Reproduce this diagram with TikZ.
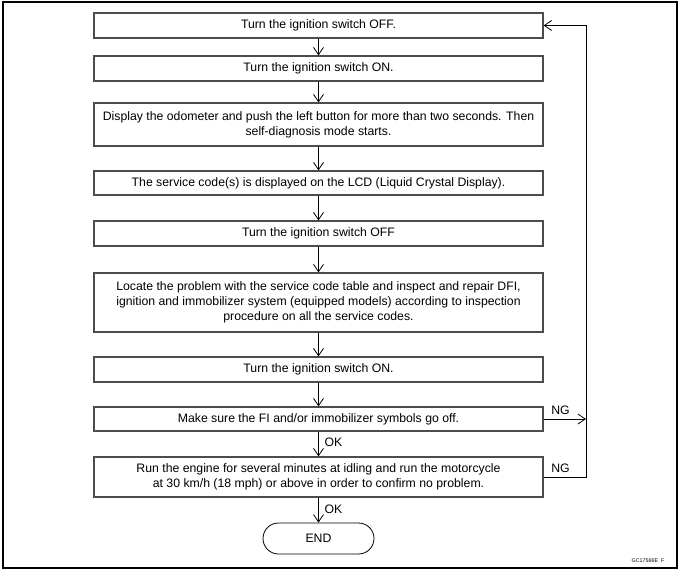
\documentclass[tikz,border=0pt]{standalone}
\usepackage{fontspec}
\setmainfont{Liberation Sans}
\usetikzlibrary{arrows.meta}
\begin{document}
\begin{tikzpicture}[x=0.75pt, y=-0.75pt, font=\fontsize{9.2}{11.4}\selectfont]
      \tikzstyle{box} = [draw=black!70, line width=0.9pt, minimum width=336.75pt, inner sep=2pt, align=center]
      \tikzstyle{flow} = [-{Straight Barb[length=5.5pt, width=7.5pt]}, line width=0.6pt]
      \useasboundingbox (0,0) rectangle (682,575);
      \draw[line width=0.9pt] (3,2) rectangle (677,568);
      \coordinate (fb) at (586,0);
      \path
	node[box, minimum height=18.75pt] (s1) at (318.5,25.5) {Turn the ignition switch OFF.}
	node[box, minimum height=18.75pt] (s2) at (318.5,68.5) {Turn the ignition switch ON.}
	node[box, minimum height=32.25pt] (s3) at (318.5,124.5) {Display the odometer and push the left button for more than two seconds. Then\\ self-diagnosis mode starts.}
	node[box, minimum height=18pt] (s4) at (318.5,183) {The service code(s) is displayed on the LCD (Liquid Crystal Display).}
	node[box, minimum height=18.75pt] (s5) at (318.5,233.5) {Turn the ignition switch OFF}
	node[box, minimum height=44.25pt] (s6) at (318.5,302.5) {Locate the problem with the service code table and inspect and repair DFI,\\ ignition and immobilizer system (equipped models) according to inspection\\ procedure on all the service codes.}
	node[box, minimum height=18.75pt] (s7) at (318.5,369.5) {Turn the ignition switch ON.}
	node[box, minimum height=18pt] (s8) at (318.5,419) {Make sure the FI and/or immobilizer symbols go off.}
	node[box, minimum height=30pt] (s9) at (318.5,477) {Run the engine for several minutes at idling and run the motorcycle\\ at 30 km/h (18 mph) or above in order to confirm no problem.}
	node[draw, line width=0.6pt, minimum width=83.25pt, minimum height=23.25pt, rounded corners=11.6pt] (e) at (318.5,538.5) {END}
	(s1) edge[flow] (s2)
	(s2) edge[flow] (s3)
	(s3) edge[flow] (s4)
	(s4) edge[flow] (s5)
	(s5) edge[flow] (s6)
	(s6) edge[flow] (s7)
	(s7) edge[flow] (s8)
	(s8) edge[flow] node[right, pos=0.45, xshift=1pt] {OK} (s9)
	(s9) edge[flow] node[right, pos=0.45, xshift=1pt] {OK} (e)
	;
      \draw[flow] (s8.east) -- node[above, pos=0.4] {NG} (s8.east -| fb);
      \draw[flow] (s9.east) -- node[above, pos=0.4] {NG} (s9.east -| fb) |- (s1.east);
      \node[font=\fontsize{4}{5}\selectfont] (code) at (648,561) {GC17566E\ \ F};
\end{tikzpicture}
\end{document}
